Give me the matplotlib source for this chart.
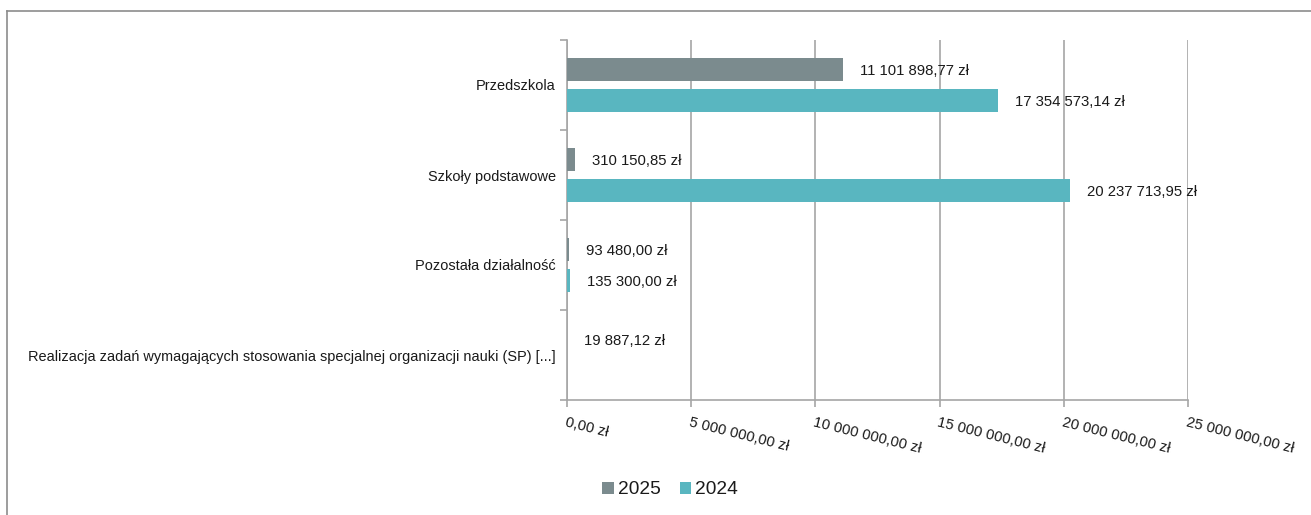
import matplotlib
matplotlib.use("Agg")
import matplotlib.pyplot as plt
from matplotlib.lines import Line2D
from matplotlib.ticker import FixedLocator, FuncFormatter
import numpy as np

plt.rcParams['font.family'] = ['Liberation Sans', 'DejaVu Sans']

categories = ["Przedszkola", "Szkoły podstawowe", "Pozostała działalność",
              "Realizacja zadań wymagających stosowania specjalnej organizacji nauki (SP) [...]"]
values_2025 = [11101898.77, 310150.85, 93480.00, 19887.12]
values_2024 = [17354573.14, 20237713.95, 135300.00, None]
series_names = ["2025", "2024"]
xticks = [0, 5000000, 10000000, 15000000, 20000000, 25000000]

c2025 = "#7b8b8e"
c2024 = "#59b6c0"
grid_c = "#a6a6a6"
txt_c = "#1a1a1a"


def fmt_pl(v):
    s = f"{v:,.2f}"
    ip, dp = s.split(".")
    return ip.replace(",", " ") + "," + dp + " zł"


fig = plt.figure(figsize=(13.11, 5.15), dpi=100)
ax = fig.add_axes([567 / 1311, 1 - 400 / 515, (1188 - 567) / 1311, 360 / 515])

y = np.arange(len(categories))
off = 0.172
h = 0.255
v25 = [v if v is not None else 0 for v in values_2025]
v24 = [v if v is not None else 0 for v in values_2024]
ax.barh(y - off, v25, height=h, color=c2025, label=series_names[0], zorder=3)
ax.barh(y + off, v24, height=h, color=c2024, label=series_names[1], zorder=3)

xpad = 17 / 24.84 * 1e6
for i, v in enumerate(values_2025):
    if v is not None:
        ax.text(v + xpad, i - off + 0.02, fmt_pl(v), va='center', ha='left', fontsize=10.7, color=txt_c, zorder=4)
for i, v in enumerate(values_2024):
    if v is not None:
        ax.text(v + xpad, i + off + 0.02, fmt_pl(v), va='center', ha='left', fontsize=10.7, color=txt_c, zorder=4)

ax.set_xlim(0, 25000000)
ax.set_ylim(len(categories) - 0.5, -0.5)
ax.xaxis.set_major_locator(FixedLocator(xticks))
ax.xaxis.set_major_formatter(FuncFormatter(lambda v, p: fmt_pl(v)))
ax.grid(axis='x', color=grid_c, linewidth=1.2, zorder=0)

ax.set_yticks(y)
ax.set_yticklabels(categories, fontsize=10.45, color=txt_c)
ax.yaxis.set_minor_locator(FixedLocator(np.arange(-0.5, len(categories), 1.0)))
ax.tick_params(axis='y', which='major', length=0, pad=8)
ax.tick_params(axis='y', which='minor', length=5, color=grid_c, width=1.2)
ax.tick_params(axis='x', which='major', length=5, color=grid_c, width=1.2, pad=6)

for lab in ax.get_xticklabels():
    lab.set_rotation(-14)
    lab.set_rotation_mode('anchor')
    lab.set_ha('left')
    lab.set_va('top')
    lab.set_fontsize(10.6)
    lab.set_color(txt_c)

for s in ['top', 'right']:
    ax.spines[s].set_visible(False)
for s in ['left', 'bottom']:
    ax.spines[s].set_color(grid_c)
    ax.spines[s].set_linewidth(1.2)

leg = fig.legend(loc='center', bbox_to_anchor=(670 / 1311, 1 - 490 / 515), ncol=2, frameon=False,
                 fontsize=13.8, handlelength=0.6, handleheight=0.6, handletextpad=0.2, columnspacing=1.0)
for t in leg.get_texts():
    t.set_color(txt_c)

fig.add_artist(Line2D([7 / 1311, 1.0], [1 - 11 / 515, 1 - 11 / 515], color='#8c8c8c', linewidth=1.2))
fig.add_artist(Line2D([7 / 1311, 7 / 1311], [1 - 11 / 515, 0], color='#8c8c8c', linewidth=1.2))

fig.savefig("out.png", dpi=100)
